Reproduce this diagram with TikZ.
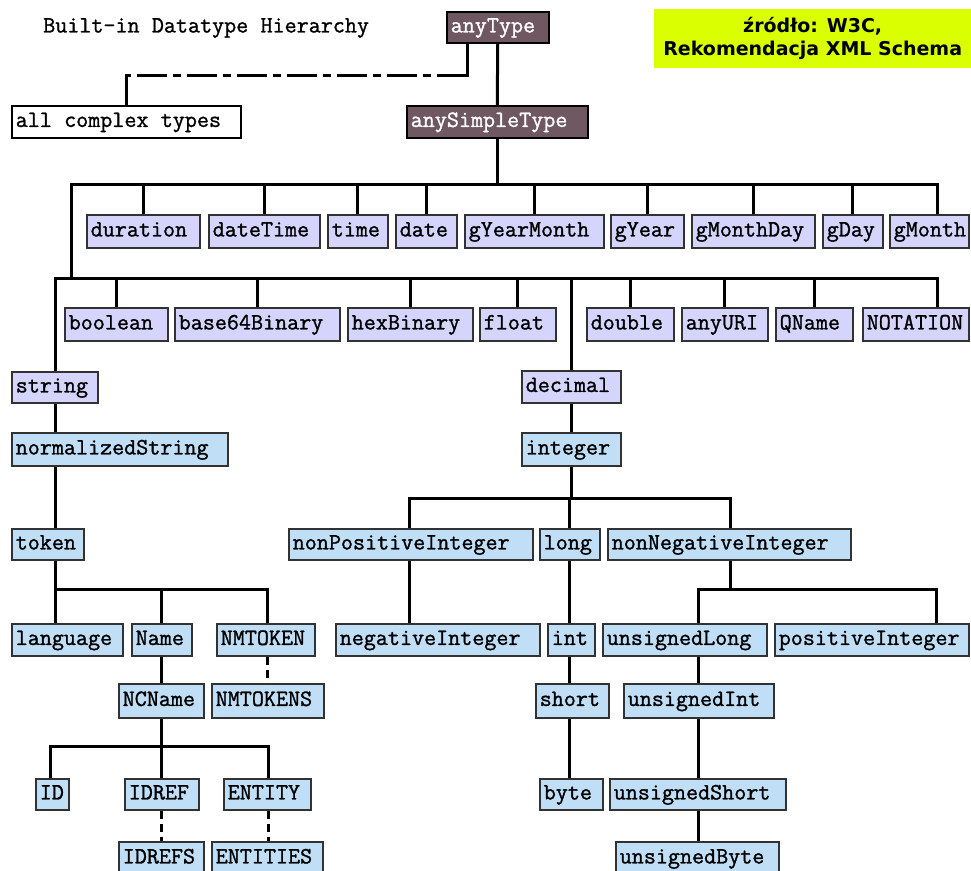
\documentclass[tikz,border=0pt]{standalone}
\usepackage{fontspec}
\usetikzlibrary{backgrounds}
\newfontfamily\srcfont{DejaVu Sans}
\newfontfamily\boxfont{Latin Modern Mono}[FakeBold=1.2]
\definecolor{lav}{RGB}{212,212,252}
\definecolor{lblue}{RGB}{192,222,246}
\definecolor{mauve}{RGB}{112,88,98}
\definecolor{boxline}{RGB}{50,50,50}
\definecolor{srcyellow}{RGB}{218,255,0}
\newcommand\ms{\hspace{0.525em}}
\newcommand\tb[7]{%
  \pgfmathsetmacro\tbw{#5-#3}\pgfmathsetmacro\tbh{#6-#4}\pgfmathsetmacro\tbt{#5-#3-8}%
  \node[#1, anchor=north west, minimum width=\tbw pt, minimum height=\tbh pt, text width=\tbt pt] (#2) at (#3,#4) {\strut\hbox{#7}};}
\begin{document}
\begin{tikzpicture}[x=1pt,y=-1pt,
  every node/.style={font=\boxfont\fontsize{23.4}{26}\selectfont, inner ysep=0pt, inner xsep=4pt, align=left},
  ln/.style={line width=3pt, line cap=rect},
  dsh/.style={line width=3pt, dash pattern=on 8pt off 5pt},
  ddash/.style={line width=3pt, dash pattern=on 30pt off 6pt on 8pt off 6pt},
  prim/.style={draw=boxline, line width=1.5pt, fill=lav},
  der/.style={draw=boxline, line width=1.5pt, fill=lblue},
  topbox/.style={draw=black, line width=1.5pt, fill=mauve, text=white},
  cplxbox/.style={draw=black, line width=1.5pt, fill=white},
]
\useasboundingbox (0,0) rectangle (971,870);
% title and source
\node[anchor=west] (title) at (39,28) {\hbox{Built-in\ms Datatype\ms Hierarchy}};
\node[fill=srcyellow, anchor=north west, minimum width=317pt, minimum height=59pt, inner sep=0pt, align=center,
  font=\srcfont\bfseries\fontsize{19}{23}\selectfont] (src) at (654,9) {źródło: W3C,\\Rekomendacja XML Schema};
% top
\tb{topbox}{anyType}{446}{11}{548}{42}{anyType}
\tb{topbox}{anySimpleType}{406}{105}{587}{137}{anySimpleType}
\tb{cplxbox}{cplx}{11}{105}{240}{137}{all\ms complex\ms types}
% row 1
\tb{prim}{duration}{86}{214}{199}{247}{duration}
\tb{prim}{dateTime}{208}{214}{319}{247}{dateTime}
\tb{prim}{time}{327}{214}{387}{247}{time}
\tb{prim}{date}{395}{214}{456}{247}{date}
\tb{prim}{gYearMonth}{464}{214}{603}{247}{gYearMonth}
\tb{prim}{gYear}{610}{214}{683}{247}{gYear}
\tb{prim}{gMonthDay}{691}{214}{814}{247}{gMonthDay}
\tb{prim}{gDay}{822}{214}{882}{247}{gDay}
\tb{prim}{gMonth}{889}{214}{968}{247}{gMonth}
% row 2
\tb{prim}{boolean}{64}{307}{167}{340}{boolean}
\tb{prim}{base64Binary}{174}{307}{339}{340}{base64Binary}
\tb{prim}{hexBinary}{347}{307}{472}{340}{hexBinary}
\tb{prim}{float}{479}{307}{555}{340}{float}
\tb{prim}{double}{586}{307}{673}{340}{double}
\tb{prim}{anyURI}{681}{307}{767}{340}{anyURI}
\tb{prim}{QName}{775}{307}{852}{340}{QName}
\tb{prim}{NOTATION}{862}{307}{968}{340}{NOTATION}
% string branch
\tb{prim}{string}{11}{371}{97}{402}{string}
\tb{der}{normalizedString}{11}{432}{227}{465}{normalizedString}
\tb{der}{token}{11}{528}{83}{559}{token}
\tb{der}{language}{11}{623}{122}{655}{language}
\tb{der}{Name}{131}{623}{191}{655}{Name}
\tb{der}{NMTOKEN}{216}{623}{314}{655}{NMTOKEN}
\tb{der}{NCName}{118}{683}{203}{717}{NCName}
\tb{der}{NMTOKENS}{211}{683}{323}{717}{NMTOKENS}
\tb{der}{ID}{35}{778}{68}{809}{ID}
\tb{der}{IDREF}{124}{778}{198}{809}{IDREF}
\tb{der}{ENTITY}{223}{778}{310}{809}{ENTITY}
\tb{der}{IDREFS}{118}{841}{203}{874}{IDREFS}
\tb{der}{ENTITIES}{211}{841}{322}{874}{ENTITIES}
% decimal branch
\tb{prim}{decimal}{521}{370}{620}{402}{decimal}
\tb{der}{integer}{521}{432}{620}{465}{integer}
\tb{der}{nonPositiveInteger}{288}{528}{532}{559}{nonPositiveInteger}
\tb{der}{long}{539}{528}{599}{559}{long}
\tb{der}{nonNegativeInteger}{607}{528}{850}{559}{nonNegativeInteger}
\tb{der}{negativeInteger}{335}{623}{539}{655}{negativeInteger}
\tb{der}{int}{547}{623}{594}{655}{int}
\tb{der}{unsignedLong}{602}{623}{766}{655}{unsignedLong}
\tb{der}{positiveInteger}{774}{623}{968}{655}{positiveInteger}
\tb{der}{short}{535}{683}{608}{717}{short}
\tb{der}{unsignedInt}{623}{683}{773}{717}{unsignedInt}
\tb{der}{byte}{539}{778}{602}{809}{byte}
\tb{der}{unsignedShort}{609}{778}{785}{809}{unsignedShort}
\tb{der}{unsignedByte}{615}{841}{778}{874}{unsignedByte}
% bar coordinates
\coordinate (c1) at (467,75);
\coordinate (c2) at (126,75);
\coordinate (b1l) at (71,184);
\coordinate (b1r) at (937,184);
\coordinate (b2l) at (55,278);
\coordinate (b2r) at (937,278);
\coordinate (b3l) at (55,589);
\coordinate (b3r) at (267,589);
\coordinate (b4l) at (50,746);
\coordinate (b4r) at (268,746);
\coordinate (b5l) at (409,498);
\coordinate (b5r) at (730,498);
\coordinate (b6l) at (698,589);
\coordinate (b6r) at (936,589);
\begin{scope}[on background layer]
  % anyType
  \draw[ln] (anyType.south) -- (anySimpleType.north);
  \draw[ln] (anyType.south -| c1) -- (c1);
  \draw[ddash] (c1) -- (c2);
  \draw[ln] (c2) -- (cplx.north -| c2);
  % level 1
  \draw[ln] (anySimpleType.south) -- (anySimpleType.south |- b1l);
  \draw[ln] (b2l |- b2l) -- (b2r) -- (b2r |- NOTATION.north);
  \draw[ln] (b1l |- b2l) -- (b1l) -- (b1r) -- (b1r |- gMonth.north);
  \foreach \n in {duration,dateTime,time,date,gYearMonth,gYear,gMonthDay,gDay}
    \draw[ln] (\n.north) -- (\n.north |- b1l);
  \foreach \n in {boolean,base64Binary,hexBinary,float,double,anyURI,QName}
    \draw[ln] (\n.north) -- (\n.north |- b2l);
  % string branch
  \draw[ln] (b2l) -- (b2l |- string.north);
  \draw[ln] (string.south -| b2l) -- (normalizedString.north -| b2l);
  \draw[ln] (normalizedString.south -| b2l) -- (token.north -| b2l);
  \draw[ln] (token.south -| b3l) -- (language.north -| b3l);
  \draw[ln] (b3l) -- (b3r) -- (b3r |- NMTOKEN.north);
  \draw[ln] (Name.north) -- (Name.north |- b3l);
  \draw[dsh] (NMTOKEN.south -| b3r) -- (NMTOKENS.north -| b3r);
  \draw[ln] (Name.south) -- (NCName.north -| Name.south);
  \draw[ln] (NCName.south -| Name.south) -- (b4l -| Name.south);
  \draw[ln] (ID.north -| b4l) -- (b4l) -- (b4r) -- (b4r |- ENTITY.north);
  \draw[ln] (IDREF.north) -- (IDREF.north |- b4l);
  \draw[dsh] (IDREF.south) -- (IDREFS.north -| IDREF.south);
  \draw[dsh] (ENTITY.south -| b4r) -- (ENTITIES.north -| b4r);
  % decimal branch
  \draw[ln] (decimal.north) -- (decimal.north |- b2l);
  \draw[ln] (decimal.south) -- (integer.north);
  \draw[ln] (integer.south) -- (integer.south |- b5l);
  \draw[ln] (nonPositiveInteger.north -| b5l) -- (b5l) -- (b5r) -- (b5r |- nonNegativeInteger.north);
  \draw[ln] (long.north) -- (long.north |- b5l);
  \draw[ln] (nonPositiveInteger.south -| b5l) -- (negativeInteger.north -| b5l);
  \draw[ln] (long.south) -- (int.north -| long.south);
  \draw[ln] (int.south -| long.south) -- (short.north -| long.south);
  \draw[ln] (short.south -| long.south) -- (byte.north -| long.south);
  \draw[ln] (nonNegativeInteger.south -| b5r) -- (b6l -| b5r);
  \draw[ln] (unsignedLong.north -| b6l) -- (b6l) -- (b6r) -- (b6r |- positiveInteger.north);
  \draw[ln] (unsignedLong.south -| b6l) -- (unsignedInt.north -| b6l);
  \draw[ln] (unsignedInt.south -| b6l) -- (unsignedShort.north -| b6l);
  \draw[ln] (unsignedShort.south -| b6l) -- (unsignedByte.north -| b6l);
\end{scope}
\end{tikzpicture}
\end{document}
